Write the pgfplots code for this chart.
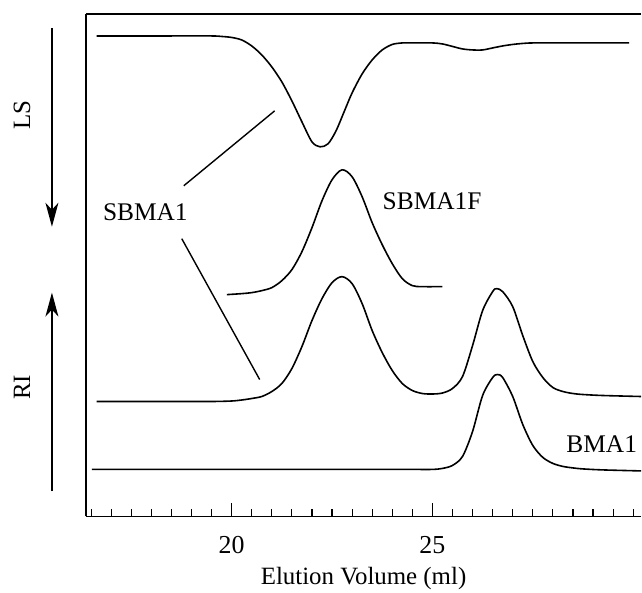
\documentclass[border=0pt]{standalone}
\usepackage{fontspec}
\setmainfont{Liberation Serif}
\usepackage{pgfplots}
\pgfplotsset{compat=1.18}
\usetikzlibrary{arrows.meta}

% curves: elution volume (ml) vs detector signal (arbitrary, offset traces)
\pgfplotstableread{
v y
16.64 481
17.50 481
18.50 481
19.50 481
19.75 480.5
20.00 479.5
20.25 477
20.50 471
20.75 462
21.00 450
21.25 435
21.50 416
21.75 395
22.00 375
22.20 370
22.40 373
22.60 386
22.80 405
23.00 424
23.25 443
23.50 457
23.75 467
24.00 472.5
24.25 474
24.50 474
25.00 474
25.25 473
25.50 470.5
25.75 468
26.00 467
26.25 467
26.50 469
26.75 471
27.00 472.5
27.25 473.5
27.50 474
28.25 474
29.00 474
29.90 474
}\ls

\pgfplotstableread{
v y
19.88 222
20.25 223
20.50 224
20.75 226
21.00 229
21.25 236
21.50 247
21.75 265
22.00 289
22.25 316
22.50 337
22.75 347
23.00 340
23.25 320
23.50 294
23.75 272
24.00 253
24.25 238
24.50 231
24.75 230
25.25 230
}\sbmaf

\pgfplotstableread{
v y
16.64 115
17.50 115
18.50 115
19.50 115
20.00 115.5
20.25 116.5
20.50 118
20.75 120
21.00 125
21.25 133
21.50 148
21.75 170
22.00 196
22.25 218
22.50 234
22.75 240
23.00 233
23.25 213
23.50 186
23.75 164
24.00 146
24.25 133
24.50 126
24.75 123
25.00 122.5
25.25 123.5
25.50 128
25.75 140
26.00 171
26.25 206
26.50 225
26.60 228
26.75 225
27.00 210
27.25 181
27.50 155
27.75 139
28.00 129
28.25 125
28.50 123
28.75 122
29.25 121
30.20 120
}\sbma

\pgfplotstableread{
v y
16.52 47
17.50 47
18.50 47
19.50 47
20.50 47
21.50 47
22.50 47
23.50 47
24.50 47
25.00 47
25.25 48
25.50 51
25.75 60
26.00 85
26.25 121
26.50 139
26.62 142
26.75 139
27.00 120
27.25 92
27.50 71
27.75 59
28.00 53
28.25 50
28.50 48.5
28.75 47.5
29.25 46.5
30.20 45.5
}\bma

\begin{document}
\begin{tikzpicture}[trace/.style={black, line width=1.6bp, smooth, tension=0.5}]
\begin{axis}[
    at={(86bp,-517bp)}, anchor=south west,
    scale only axis,
    width=556bp, height=503bp,
    xmin=16.37, xmax=30.20,
    ymin=0, ymax=503,
    axis x line*=box, axis y line*=left,
    axis line style={line width=1.4bp, -},
    xtick={20,25},
    minor xtick={16.5,17,...,30},
    xtick pos=bottom,
    tick align=inside,
    major tick length=13bp, minor tick length=7bp,
    tick style={line width=1.2bp, black},
    ytick=\empty,
    /pgf/number format/assume math mode=true,
    xticklabel style={font=\fontsize{26}{30}\selectfont, anchor=base, yshift=-37bp},
    xlabel={Elution Volume (ml)},
    xlabel style={font=\fontsize{25}{30}\selectfont, at={(axis description cs:0.5,0)}, anchor=base, yshift=-68bp},
    clip=false,
]
\addplot[trace] table[x=v, y=y] {\ls};
\addplot[trace] table[x=v, y=y] {\sbmaf};
\addplot[trace] table[x=v, y=y] {\sbma};
\addplot[trace] table[x=v, y=y] {\bma};
\end{axis}

% annotations in image pixel coordinates
\begin{scope}[x=1bp, y=-1bp]
\path (0,0) rectangle (642,590);
\draw[line width=1.4bp, -{Stealth[length=24bp, width=13bp, inset=7bp]}] (52,28) -- (52,227);
\draw[line width=1.4bp, -{Stealth[length=24bp, width=13bp, inset=7bp]}] (52,492) -- (52,293);
\node[rotate=90, font=\fontsize{25}{30}\selectfont] at (22,115) {LS};
\node[rotate=90, font=\fontsize{25}{30}\selectfont] at (22,388) {RI};
\node[anchor=base west, inner sep=0pt, font=\fontsize{25.5}{30}\selectfont] at (103,221) {SBMA1};
\node[anchor=base west, inner sep=0pt, font=\fontsize{25.5}{30}\selectfont] at (383,210) {SBMA1F};
\node[anchor=base west, inner sep=0pt, font=\fontsize{25.5}{30}\selectfont] at (567,453) {BMA1};
\draw[line width=1.4bp] (184,186) -- (275,111);
\draw[line width=1.4bp] (182,239) -- (260,380);
\end{scope}
\end{tikzpicture}
\end{document}
